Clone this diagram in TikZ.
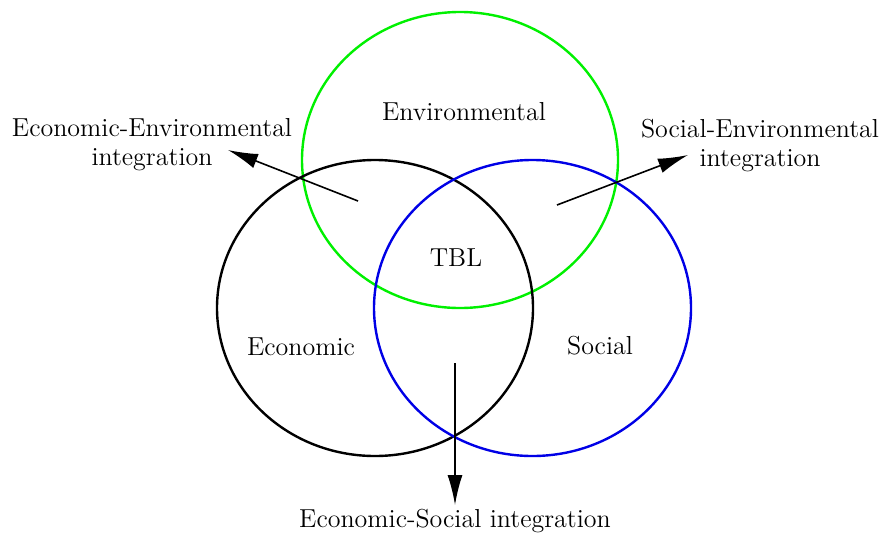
\documentclass[tikz,border=0pt]{standalone}
\usetikzlibrary{arrows.meta}
\definecolor{envgreen}{RGB}{0,240,0}
\definecolor{socblue}{RGB}{0,0,230}
\begin{document}
\begin{tikzpicture}[x=0.5pt,y=-0.5pt,
  circ/.style={line width=1.2pt},
  lbl/.style={font=\fontsize{13}{14.5}\selectfont, align=center, inner sep=0pt},
  arr/.style={line width=0.8pt, -{Latex[length=15pt,width=7.5pt]}}]
\useasboundingbox (0,0) rectangle (882,536);
\draw[circ, envgreen] (460,160) ellipse [x radius=158, y radius=148];
\draw[circ, black] (375,308) ellipse [x radius=158, y radius=148];
\draw[circ, socblue] (532.5,308) ellipse [x radius=158.5, y radius=148];
\node[lbl] (env) at (464,112) {Environmental};
\node[lbl] (tbl) at (456,258) {TBL};
\node[lbl] (eco) at (301,347) {Economic};
\node[lbl] (soc) at (600,346) {Social};
\node[lbl] (ee) at (152,145) {Economic-Environmental\\integration};
\node[lbl] (se) at (760,146) {Social-Environmental\\integration};
\node[lbl] (es) at (455,521) {Economic-Social integration};
\coordinate (a1) at (358,201);
\coordinate (a1t) at (228,150);
\coordinate (a2) at (557,205);
\coordinate (a2t) at (688,155);
\coordinate (a3) at (455,363);
\coordinate (a3t) at (455,505);
\draw[arr] (a1) -- (a1t);
\draw[arr] (a2) -- (a2t);
\draw[arr] (a3) -- (a3t);
\end{tikzpicture}
\end{document}
